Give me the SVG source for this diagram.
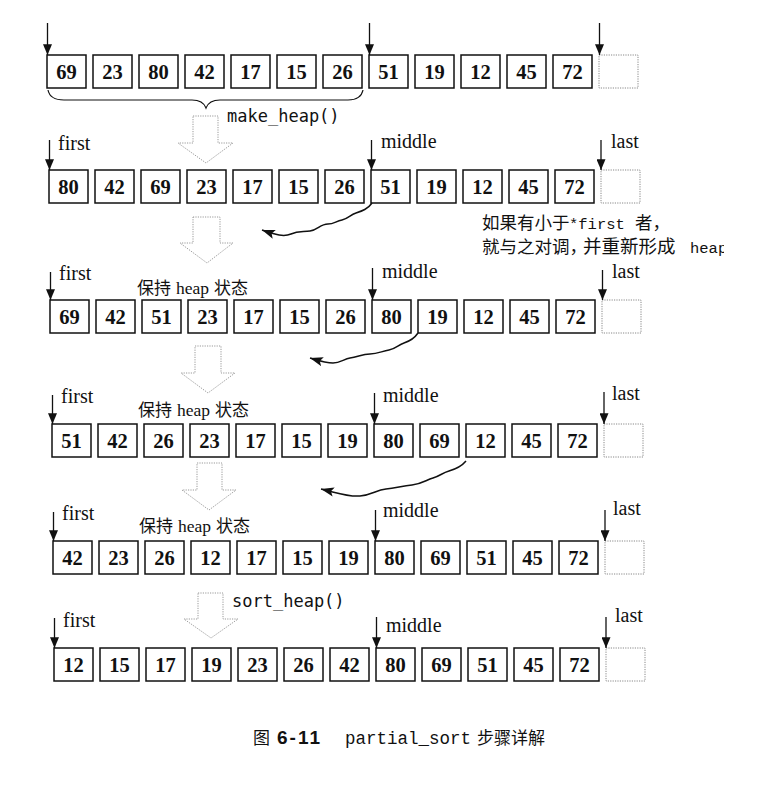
<svg xmlns="http://www.w3.org/2000/svg" width="760" height="788" viewBox="0 0 760 788">
<style>
  .box rect { fill: #fff; stroke: #111; stroke-width: 1.5; }
  .box text { font-family: "Liberation Serif", "Times New Roman", serif; font-weight: bold; font-size: 20.5px; text-anchor: middle; fill: #111; }
  .end rect { fill: #fff; stroke: #888; stroke-width: 1; stroke-dasharray: 1.2 1.2; }
  .lbl { font-family: "Liberation Serif", "Times New Roman", serif; font-size: 20px; fill: #111; }
  .hs { font-family: "Noto Sans CJK SC", sans-serif; font-size: 17px; fill: #111; }
  .hs .en { font-family: "Liberation Serif", serif; font-size: 17.5px; }
  .fn { font-family: "DejaVu Sans Mono", monospace; font-size: 17px; fill: #111; }
  .note { font-family: "Noto Sans CJK SC", sans-serif; font-size: 17.5px; fill: #111; }
  .note .mono { font-family: "Liberation Mono", monospace; font-size: 15.5px; }
  .ptr { stroke: #111; stroke-width: 1.3; fill: none; marker-end: url(#ah); }
  .wave { stroke: #111; stroke-width: 1.5; fill: none; marker-end: url(#wh); }
  .blk { fill: #fff; stroke: #999; stroke-width: 1; stroke-dasharray: 1.2 1.2; }
  .brace { fill: none; stroke: #111; stroke-width: 1.2; }
  .cap { font-family: "Noto Sans CJK SC", sans-serif; font-size: 17px; fill: #111; }
</style>
<defs>
  <marker id="ah" viewBox="0 0 12 10" refX="12" refY="5" markerWidth="11" markerHeight="9" markerUnits="userSpaceOnUse" orient="auto">
    <path d="M0,0 L12,5 L0,10 z" fill="#111"/>
  </marker>
  <marker id="wh" viewBox="0 0 14 10" refX="14" refY="5" markerWidth="13" markerHeight="10" markerUnits="userSpaceOnUse" orient="auto">
    <path d="M0,0 L14,5 L0,10 L3,5 z" fill="#111"/>
  </marker>
  <clipPath id="clipR"><rect x="0" y="0" width="724" height="788"/></clipPath>
</defs>

<!-- Row 1 -->
<g id="row1">
  <g id="r1-0" class="box"><rect x="47" y="55" width="39" height="33"/><text x="66.5" y="79">69</text></g>
  <g id="r1-1" class="box"><rect x="93" y="55" width="39" height="33"/><text x="112.5" y="79">23</text></g>
  <g id="r1-2" class="box"><rect x="139" y="55" width="39" height="33"/><text x="158.5" y="79">80</text></g>
  <g id="r1-3" class="box"><rect x="185" y="55" width="39" height="33"/><text x="204.5" y="79">42</text></g>
  <g id="r1-4" class="box"><rect x="231" y="55" width="39" height="33"/><text x="250.5" y="79">17</text></g>
  <g id="r1-5" class="box"><rect x="277" y="55" width="39" height="33"/><text x="296.5" y="79">15</text></g>
  <g id="r1-6" class="box"><rect x="323" y="55" width="39" height="33"/><text x="342.5" y="79">26</text></g>
  <g id="r1-7" class="box"><rect x="369" y="55" width="39" height="33"/><text x="388.5" y="79">51</text></g>
  <g id="r1-8" class="box"><rect x="415" y="55" width="39" height="33"/><text x="434.5" y="79">19</text></g>
  <g id="r1-9" class="box"><rect x="461" y="55" width="39" height="33"/><text x="480.5" y="79">12</text></g>
  <g id="r1-10" class="box"><rect x="507" y="55" width="39" height="33"/><text x="526.5" y="79">45</text></g>
  <g id="r1-11" class="box"><rect x="553" y="55" width="39" height="33"/><text x="572.5" y="79">72</text></g>
  <g id="r1-end" class="end"><rect x="599" y="55" width="39" height="33"/></g>
</g>

<!-- Row 2 -->
<g id="row2">
  <g id="r2-0" class="box"><rect x="49" y="170" width="39" height="33"/><text x="68.5" y="194">80</text></g>
  <g id="r2-1" class="box"><rect x="95" y="170" width="39" height="33"/><text x="114.5" y="194">42</text></g>
  <g id="r2-2" class="box"><rect x="141" y="170" width="39" height="33"/><text x="160.5" y="194">69</text></g>
  <g id="r2-3" class="box"><rect x="187" y="170" width="39" height="33"/><text x="206.5" y="194">23</text></g>
  <g id="r2-4" class="box"><rect x="233" y="170" width="39" height="33"/><text x="252.5" y="194">17</text></g>
  <g id="r2-5" class="box"><rect x="279" y="170" width="39" height="33"/><text x="298.5" y="194">15</text></g>
  <g id="r2-6" class="box"><rect x="325" y="170" width="39" height="33"/><text x="344.5" y="194">26</text></g>
  <g id="r2-7" class="box"><rect x="371" y="170" width="39" height="33"/><text x="390.5" y="194">51</text></g>
  <g id="r2-8" class="box"><rect x="417" y="170" width="39" height="33"/><text x="436.5" y="194">19</text></g>
  <g id="r2-9" class="box"><rect x="463" y="170" width="39" height="33"/><text x="482.5" y="194">12</text></g>
  <g id="r2-10" class="box"><rect x="509" y="170" width="39" height="33"/><text x="528.5" y="194">45</text></g>
  <g id="r2-11" class="box"><rect x="555" y="170" width="39" height="33"/><text x="574.5" y="194">72</text></g>
  <g id="r2-end" class="end"><rect x="601" y="170" width="39" height="33"/></g>
</g>

<!-- Row 3 -->
<g id="row3">
  <g id="r3-0" class="box"><rect x="50" y="300" width="39" height="33"/><text x="69.5" y="324">69</text></g>
  <g id="r3-1" class="box"><rect x="96" y="300" width="39" height="33"/><text x="115.5" y="324">42</text></g>
  <g id="r3-2" class="box"><rect x="142" y="300" width="39" height="33"/><text x="161.5" y="324">51</text></g>
  <g id="r3-3" class="box"><rect x="188" y="300" width="39" height="33"/><text x="207.5" y="324">23</text></g>
  <g id="r3-4" class="box"><rect x="234" y="300" width="39" height="33"/><text x="253.5" y="324">17</text></g>
  <g id="r3-5" class="box"><rect x="280" y="300" width="39" height="33"/><text x="299.5" y="324">15</text></g>
  <g id="r3-6" class="box"><rect x="326" y="300" width="39" height="33"/><text x="345.5" y="324">26</text></g>
  <g id="r3-7" class="box"><rect x="372" y="300" width="39" height="33"/><text x="391.5" y="324">80</text></g>
  <g id="r3-8" class="box"><rect x="418" y="300" width="39" height="33"/><text x="437.5" y="324">19</text></g>
  <g id="r3-9" class="box"><rect x="464" y="300" width="39" height="33"/><text x="483.5" y="324">12</text></g>
  <g id="r3-10" class="box"><rect x="510" y="300" width="39" height="33"/><text x="529.5" y="324">45</text></g>
  <g id="r3-11" class="box"><rect x="556" y="300" width="39" height="33"/><text x="575.5" y="324">72</text></g>
  <g id="r3-end" class="end"><rect x="602" y="300" width="39" height="33"/></g>
</g>

<!-- Row 4 -->
<g id="row4">
  <g id="r4-0" class="box"><rect x="52" y="424" width="39" height="33"/><text x="71.5" y="448">51</text></g>
  <g id="r4-1" class="box"><rect x="98" y="424" width="39" height="33"/><text x="117.5" y="448">42</text></g>
  <g id="r4-2" class="box"><rect x="144" y="424" width="39" height="33"/><text x="163.5" y="448">26</text></g>
  <g id="r4-3" class="box"><rect x="190" y="424" width="39" height="33"/><text x="209.5" y="448">23</text></g>
  <g id="r4-4" class="box"><rect x="236" y="424" width="39" height="33"/><text x="255.5" y="448">17</text></g>
  <g id="r4-5" class="box"><rect x="282" y="424" width="39" height="33"/><text x="301.5" y="448">15</text></g>
  <g id="r4-6" class="box"><rect x="328" y="424" width="39" height="33"/><text x="347.5" y="448">19</text></g>
  <g id="r4-7" class="box"><rect x="374" y="424" width="39" height="33"/><text x="393.5" y="448">80</text></g>
  <g id="r4-8" class="box"><rect x="420" y="424" width="39" height="33"/><text x="439.5" y="448">69</text></g>
  <g id="r4-9" class="box"><rect x="466" y="424" width="39" height="33"/><text x="485.5" y="448">12</text></g>
  <g id="r4-10" class="box"><rect x="512" y="424" width="39" height="33"/><text x="531.5" y="448">45</text></g>
  <g id="r4-11" class="box"><rect x="558" y="424" width="39" height="33"/><text x="577.5" y="448">72</text></g>
  <g id="r4-end" class="end"><rect x="604" y="424" width="39" height="33"/></g>
</g>

<!-- Row 5 -->
<g id="row5">
  <g id="r5-0" class="box"><rect x="53" y="541" width="39" height="33"/><text x="72.5" y="565">42</text></g>
  <g id="r5-1" class="box"><rect x="99" y="541" width="39" height="33"/><text x="118.5" y="565">23</text></g>
  <g id="r5-2" class="box"><rect x="145" y="541" width="39" height="33"/><text x="164.5" y="565">26</text></g>
  <g id="r5-3" class="box"><rect x="191" y="541" width="39" height="33"/><text x="210.5" y="565">12</text></g>
  <g id="r5-4" class="box"><rect x="237" y="541" width="39" height="33"/><text x="256.5" y="565">17</text></g>
  <g id="r5-5" class="box"><rect x="283" y="541" width="39" height="33"/><text x="302.5" y="565">15</text></g>
  <g id="r5-6" class="box"><rect x="329" y="541" width="39" height="33"/><text x="348.5" y="565">19</text></g>
  <g id="r5-7" class="box"><rect x="375" y="541" width="39" height="33"/><text x="394.5" y="565">80</text></g>
  <g id="r5-8" class="box"><rect x="421" y="541" width="39" height="33"/><text x="440.5" y="565">69</text></g>
  <g id="r5-9" class="box"><rect x="467" y="541" width="39" height="33"/><text x="486.5" y="565">51</text></g>
  <g id="r5-10" class="box"><rect x="513" y="541" width="39" height="33"/><text x="532.5" y="565">45</text></g>
  <g id="r5-11" class="box"><rect x="559" y="541" width="39" height="33"/><text x="578.5" y="565">72</text></g>
  <g id="r5-end" class="end"><rect x="605" y="541" width="39" height="33"/></g>
</g>

<!-- Row 6 -->
<g id="row6">
  <g id="r6-0" class="box"><rect x="54" y="648" width="39" height="33"/><text x="73.5" y="672">12</text></g>
  <g id="r6-1" class="box"><rect x="100" y="648" width="39" height="33"/><text x="119.5" y="672">15</text></g>
  <g id="r6-2" class="box"><rect x="146" y="648" width="39" height="33"/><text x="165.5" y="672">17</text></g>
  <g id="r6-3" class="box"><rect x="192" y="648" width="39" height="33"/><text x="211.5" y="672">19</text></g>
  <g id="r6-4" class="box"><rect x="238" y="648" width="39" height="33"/><text x="257.5" y="672">23</text></g>
  <g id="r6-5" class="box"><rect x="284" y="648" width="39" height="33"/><text x="303.5" y="672">26</text></g>
  <g id="r6-6" class="box"><rect x="330" y="648" width="39" height="33"/><text x="349.5" y="672">42</text></g>
  <g id="r6-7" class="box"><rect x="376" y="648" width="39" height="33"/><text x="395.5" y="672">80</text></g>
  <g id="r6-8" class="box"><rect x="422" y="648" width="39" height="33"/><text x="441.5" y="672">69</text></g>
  <g id="r6-9" class="box"><rect x="468" y="648" width="39" height="33"/><text x="487.5" y="672">51</text></g>
  <g id="r6-10" class="box"><rect x="514" y="648" width="39" height="33"/><text x="533.5" y="672">45</text></g>
  <g id="r6-11" class="box"><rect x="560" y="648" width="39" height="33"/><text x="579.5" y="672">72</text></g>
  <g id="r6-end" class="end"><rect x="606" y="648" width="39" height="33"/></g>
</g>

<!-- Brace under row 1 -->
<g id="brace">
  <path class="brace" d="M48,90 Q50,100 64,100 L192,100 Q203,100 206,108 Q209,100 220,100 L348,100 Q361,100 363,90"/>
</g>

<!-- Block (hollow) step arrows -->
<g id="steps">
  <polygon class="blk" points="193,116 218,116 218,143 233,143 206,163 178,143 193,143"/>
  <polygon class="blk" points="193,217 220,217 220,243 233,243 207,263 180,243 193,243"/>
  <polygon class="blk" points="195,346 221,346 221,373 235,373 208,393 181,373 195,373"/>
  <polygon class="blk" points="197,463 222,463 222,490 236,490 209,510 182,490 197,490"/>
  <polygon class="blk" points="198,593 223,593 223,619 238,619 211,638 184,619 198,619"/>
</g>

<!-- Labels -->
<g id="labels">
  <text class="fn" x="227" y="122">make_heap()</text>
  <text class="fn" x="232" y="607">sort_heap()</text>

  <text class="lbl" x="58" y="150">first</text>
  <text class="lbl" x="381" y="148">middle</text>
  <text class="lbl" x="611" y="148">last</text>

  <text class="lbl" x="59" y="280">first</text>
  <text class="lbl" x="382" y="278">middle</text>
  <text class="lbl" x="612" y="278">last</text>
  <text class="hs" x="137" y="294">保持<tspan class="en" x="176">heap</tspan><tspan x="214">状态</tspan></text>

  <text class="lbl" x="61" y="403">first</text>
  <text class="lbl" x="383" y="402">middle</text>
  <text class="lbl" x="612" y="400">last</text>
  <text class="hs" x="138" y="416">保持<tspan class="en" x="177">heap</tspan><tspan x="215">状态</tspan></text>

  <text class="lbl" x="62" y="520">first</text>
  <text class="lbl" x="383" y="517">middle</text>
  <text class="lbl" x="613" y="515">last</text>
  <text class="hs" x="139" y="532">保持<tspan class="en" x="178">heap</tspan><tspan x="216">状态</tspan></text>

  <text class="lbl" x="63" y="627">first</text>
  <text class="lbl" x="386" y="632">middle</text>
  <text class="lbl" x="615" y="622">last</text>
</g>

<!-- Annotation -->
<g id="note" clip-path="url(#clipR)">
  <text class="note" x="482" y="229">如果有小于<tspan class="mono" x="569">*first</tspan><tspan x="635">者，</tspan></text>
  <text class="note" x="482" y="253">就与之对调，<tspan x="583" font-size="18.5px">并重新形成</tspan><tspan class="mono" x="690" font-size="16.5px">heap</tspan></text>
</g>

<!-- Connectors -->
<g id="connectors">
  <line class="ptr" x1="47.5" y1="23" x2="47.5" y2="55"/>
  <line class="ptr" x1="369.5" y1="23" x2="369.5" y2="55"/>
  <line class="ptr" x1="599.5" y1="23" x2="599.5" y2="55"/>

  <line class="ptr" x1="49.5" y1="140" x2="49.5" y2="170"/>
  <line class="ptr" x1="371.5" y1="140" x2="371.5" y2="170"/>
  <line class="ptr" x1="601" y1="140" x2="601" y2="170"/>

  <line class="ptr" x1="50.5" y1="272" x2="50.5" y2="300"/>
  <line class="ptr" x1="372.5" y1="268" x2="372.5" y2="300"/>
  <line class="ptr" x1="602.5" y1="270" x2="602.5" y2="300"/>

  <line class="ptr" x1="52.5" y1="395" x2="52.5" y2="424"/>
  <line class="ptr" x1="374.5" y1="393" x2="374.5" y2="424"/>
  <line class="ptr" x1="604" y1="392" x2="604" y2="424"/>

  <line class="ptr" x1="53.5" y1="512" x2="53.5" y2="541"/>
  <line class="ptr" x1="375.5" y1="510" x2="375.5" y2="541"/>
  <line class="ptr" x1="605" y1="510" x2="605" y2="541"/>

  <line class="ptr" x1="54.5" y1="618" x2="54.5" y2="648"/>
  <line class="ptr" x1="376.5" y1="617" x2="376.5" y2="648"/>
  <line class="ptr" x1="606" y1="617" x2="606" y2="648"/>

  <path class="wave" d="M372,203 C368,209 362,211 356,213 C350,215 348,219 342,220 C336,221 334,224 328,224 C320,224 318,230 310,231 C302,232 298,231 291,234 C284,237 276,235 262,230"/>
  <path class="wave" d="M418,333 C414,339 410,341 404,343 C398,345 396,349 389,350 C382,351 378,354 370,354 C362,354 358,357 350,358 C344,359 340,363 333,363 C326,363 320,361 310,358"/>
  <path class="wave" d="M466,461 C461,467 456,469 449,471 C442,473 440,476 433,478 C426,480 422,484 412,485 C402,486 396,488 386,489 C376,490 372,495 360,496 C348,497 338,493 321,489"/>
</g>

<!-- Caption -->
<g id="caption">
  <text class="cap" x="253" y="744">图</text>
  <text x="277" y="744" font-family="Liberation Sans, Arial, sans-serif" font-weight="bold" font-size="19px" letter-spacing="2" fill="#111">6-11</text>
  <text x="345" y="744" font-family="Liberation Mono, Courier New, monospace" font-size="17.5px" fill="#111">partial_sort</text>
  <text class="cap" x="477" y="744">步骤详解</text>
</g>
</svg>
